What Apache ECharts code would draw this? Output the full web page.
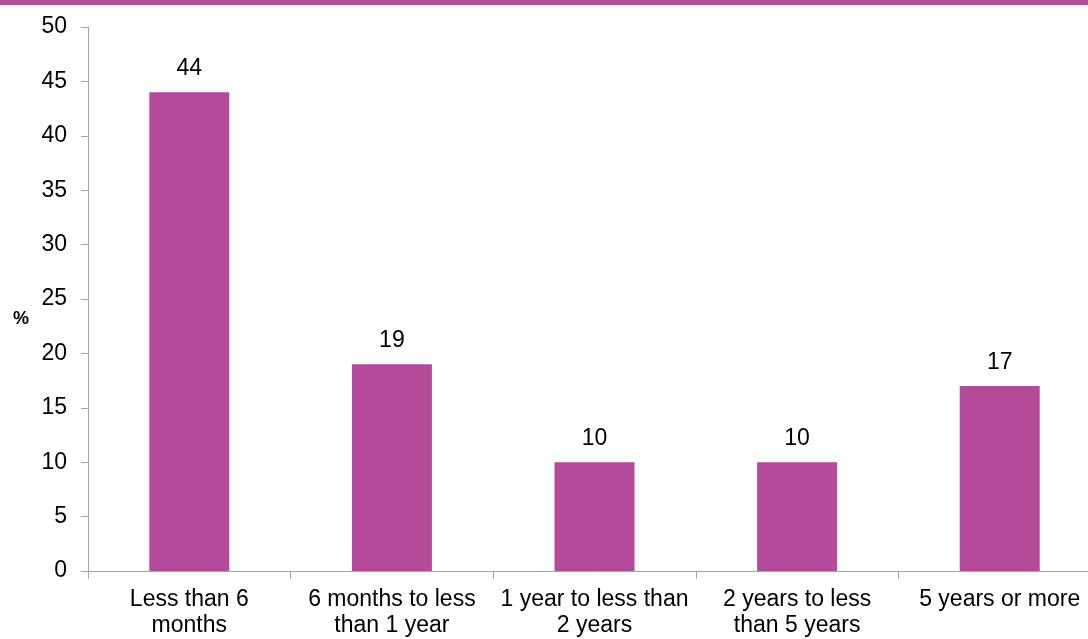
<!DOCTYPE html>
<html>
<head>
<meta charset="utf-8">
<script src="https://cdn.jsdelivr.net/npm/echarts@6/dist/echarts.min.js"></script>
<style>
  html, body { margin: 0; padding: 0; background: #fff; overflow: hidden; }
  /* the plot runs slightly past the right edge of the window */
  #chart { width: 1101px; height: 639px; }
</style>
</head>
<body>
<div id="chart"></div>
<script>
// Duration categories and their shares (%)
var categories = [
  'Less than 6\nmonths',
  '6 months to less\nthan 1 year',
  '1 year to less than\n2 years',
  '2 years to less\nthan 5 years',
  '5 years or more'
];
var shares = [44, 19, 10, 10, 17];
var yTicks = { min: 0, max: 50, interval: 5 };

var accent = '#b5499a';
var axisGrey = '#a6a6a6';
var textFont = 'Liberation Sans, Arial, sans-serif';

var chart = echarts.init(document.getElementById('chart'));
chart.setOption({
  animation: false,
  grid: { left: 88, top: 27, bottom: 67, right: 0, containLabel: false },
  graphic: [
    { type: 'rect', shape: { x: 0, y: 0, width: 1101, height: 5 }, style: { fill: accent } },
    { type: 'text', left: 13, top: 310, style: { text: '%', font: 'bold 18px ' + textFont, fill: '#000' } }
  ],
  xAxis: {
    type: 'category',
    data: categories,
    axisLine: { lineStyle: { color: axisGrey, width: 1 } },
    axisTick: { show: true, length: 8, alignWithLabel: false, lineStyle: { color: axisGrey } },
    axisLabel: {
      interval: 0, margin: 16, color: '#000',
      fontFamily: textFont, fontSize: 23, lineHeight: 26
    }
  },
  yAxis: {
    type: 'value',
    min: yTicks.min, max: yTicks.max, interval: yTicks.interval,
    splitLine: { show: false },
    axisLine: { show: true, lineStyle: { color: axisGrey, width: 1 } },
    axisTick: { show: true, length: 7, lineStyle: { color: axisGrey } },
    axisLabel: { margin: 21, color: '#000', fontFamily: textFont, fontSize: 23 }
  },
  series: [{
    type: 'bar',
    data: shares,
    barWidth: 80,
    itemStyle: { color: accent },
    label: {
      show: true, position: 'top', distance: 12, color: '#000',
      fontFamily: textFont, fontSize: 23
    }
  }]
});
</script>
</body>
</html>
